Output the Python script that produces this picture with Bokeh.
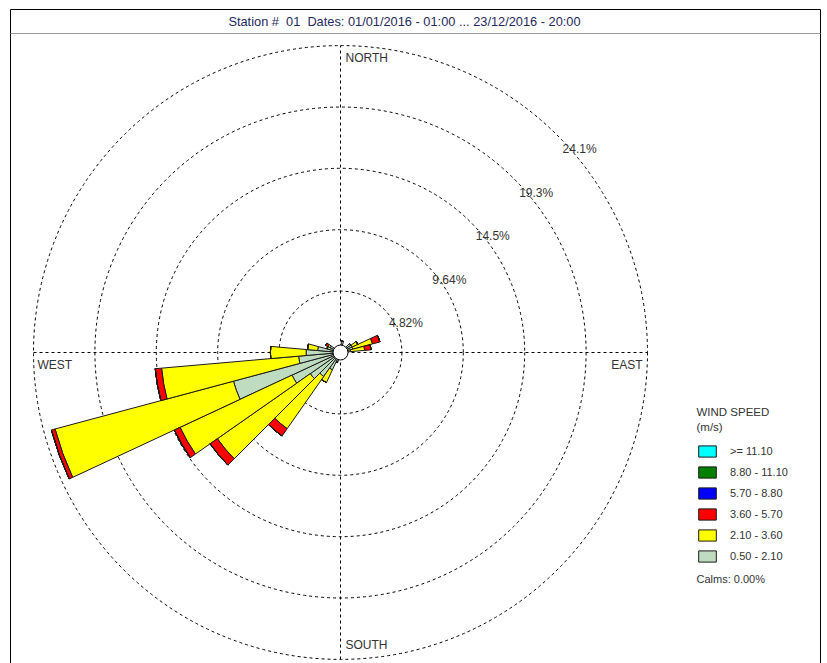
import math

from bokeh.core.properties import value
from bokeh.embed import file_html
from bokeh.models import ColumnDataSource, Label, Legend, LegendItem, Range1d
from bokeh.plotting import figure
from bokeh.resources import INLINE

# ---- data -----------------------------------------------------------------
# wind direction of each 10-degree sector (degrees clockwise from north)
directions = [10, 50, 60, 70, 80, 200, 210, 220, 230, 240, 250, 260, 270, 280, 290, 300]

# frequency (%) of each speed class per sector
freq_050_210 = [0.9, 1.0, 1.0, 1.0, 0.8, 0.8, 1.5, 2.3, 2.9, 4.2, 8.7, 3.3, 2.7, 1.8, 1.1, 0.9]
freq_210_360 = [0.0, 0.0, 0.5, 1.6, 1.1, 0.0, 1.1, 5.0, 8.9, 9.7, 14.5, 10.8, 2.8, 0.8, 0.0, 0.2]
freq_360_570 = [0.0, 0.0, 0.0, 0.6, 0.5, 0.0, 0.0, 0.7, 0.7, 0.5, 0.3, 0.5, 0.0, 0.0, 0.0, 0.2]
freq_570_880 = [0.0, 0.0, 0.0, 0.0, 0.0, 0.0, 0.0, 0.0, 0.0, 0.0, 0.0, 0.0, 0.0, 0.0, 0.0, 0.0]
freq_880_1110 = [0.0, 0.0, 0.0, 0.0, 0.0, 0.0, 0.0, 0.0, 0.0, 0.0, 0.0, 0.0, 0.0, 0.0, 0.0, 0.0]
freq_1110_up = [0.0, 0.0, 0.0, 0.0, 0.0, 0.0, 0.0, 0.0, 0.0, 0.0, 0.0, 0.0, 0.0, 0.0, 0.0, 0.0]

# speed classes, slowest first (stacking order from the centre outwards)
speed_labels = ["0.50 - 2.10", "2.10 - 3.60", "3.60 - 5.70", "5.70 - 8.80", "8.80 - 11.10", ">= 11.10"]
speed_colors = ["#c0dcc0", "#ffff00", "#ff0000", "#0000ff", "#007f00", "#00ffff"]
speed_freqs = [freq_050_210, freq_210_360, freq_360_570, freq_570_880, freq_880_1110, freq_1110_up]

ring_values = [4.82, 9.64, 14.46, 19.28, 24.1]
ring_labels = ["4.82%", "9.64%", "14.5%", "19.3%", "24.1%"]
title_text = "Station #\u00a0\u00a001\u00a0\u00a0Dates: 01/01/2016 - 01:00 ... 23/12/2016 - 20:00"
legend_title = ["WIND SPEED", "(m/s)"]
calms_text = "Calms: 0.00%"
sector_width = 10.0

# ---- page geometry ----------------------------------------------------------
W, H = 827, 663
CX, CY = 340, 352                    # rose centre in page pixels
SCALE = 307.0 / ring_values[-1]      # pixels per percent


def px_x(px):
    return (px - CX) / SCALE


def px_y(py):
    return (CY - py) / SCALE


FONT_NAME = "Liberation Sans"
FONT = value(FONT_NAME)

p = figure(
    width=W, height=H,
    x_range=Range1d(px_x(0), px_x(W)),
    y_range=Range1d(px_y(H), px_y(0)),
    x_axis_type=None, y_axis_type=None,
    toolbar_location=None, output_backend="svg",
    min_border=0, outline_line_color=None,
    background_fill_color="white", border_fill_color="white",
)
p.grid.visible = False

# ---- frame and title bar ----------------------------------------------------
p.segment(x0=[px_x(10), px_x(10), px_x(820)], y0=[px_y(9), px_y(9), px_y(9)],
          x1=[px_x(820), px_x(10), px_x(820)], y1=[px_y(9), px_y(H + 5), px_y(H + 5)],
          line_color="#000000", line_width=1)
p.segment(x0=[px_x(10)], y0=[px_y(33)], x1=[px_x(820)], y1=[px_y(33)],
          line_color="#9a9a9a", line_width=1)
p.add_layout(Label(x=404, y=H - 21, x_units="screen", y_units="screen", text=title_text,
                   text_align="center", text_baseline="middle", text_font=FONT_NAME,
                   text_font_size="12.8px", text_color="#1f2a5c"))

# ---- grid: dashed rings and compass cross -----------------------------------
R = ring_values[-1]
p.circle(x=[0] * len(ring_values), y=[0] * len(ring_values), radius=ring_values,
         fill_color=None, line_color="#000000", line_dash="3 3", line_width=1)
p.segment(x0=[-R, 0], y0=[0, -R], x1=[R, 0], y1=[0, R],
          line_color="#000000", line_dash="3 3", line_width=1)

# ---- petals: one stacked annular wedge per sector and speed class ----------
cum = [0.0] * len(directions)
renderers = []
for label, color, freqs in zip(speed_labels, speed_colors, speed_freqs):
    inner = list(cum)
    outer = [c + f for c, f in zip(cum, freqs)]
    cum = outer
    src = ColumnDataSource(dict(
        inner=inner,
        outer=outer,
        start=[math.radians(90 - d - sector_width / 2) for d in directions],
        end=[math.radians(90 - d + sector_width / 2) for d in directions],
    ))
    r = p.annular_wedge(x=0, y=0, inner_radius="inner", outer_radius="outer",
                        start_angle="start", end_angle="end", source=src,
                        fill_color=color, line_color="#1a1a1a", line_width=1)
    renderers.append((label, r))

# calm circle in the middle
p.circle(x=[0], y=[0], radius=[7.5 / SCALE], fill_color="white",
         line_color="#000000", line_width=1)

# ---- ring labels (placed along the north-east diagonal) ---------------------
diag = math.cos(math.radians(45))
p.text(x=[v * diag for v in ring_values], y=[v * diag for v in ring_values], text=ring_labels,
       text_align="left", text_baseline="top", x_offset=5, y_offset=7,
       text_font=FONT, text_font_size="12px", text_color="#333333")

# ---- compass labels ---------------------------------------------------------
cstyle = dict(text_font=FONT, text_font_size="12px", text_color="#333333")
p.text(x=[0], y=[R], text=["NORTH"], text_align="left", text_baseline="top",
       x_offset=5, y_offset=5, **cstyle)
p.text(x=[R], y=[0], text=["EAST"], text_align="right", text_baseline="top",
       x_offset=-5, y_offset=5, **cstyle)
p.text(x=[-R], y=[0], text=["WEST"], text_align="left", text_baseline="top",
       x_offset=4, y_offset=5, **cstyle)
p.text(x=[0], y=[-R], text=["SOUTH"], text_align="left", text_baseline="bottom",
       x_offset=5, y_offset=-8, **cstyle)

# ---- legend -----------------------------------------------------------------
items = [LegendItem(label=lab, renderers=[r]) for lab, r in reversed(renderers)]
legend = Legend(items=items, location=(696, 100), orientation="vertical",
                glyph_width=22, glyph_height=14, spacing=7, padding=0, margin=0,
                label_standoff=12, label_text_font=FONT_NAME, label_text_font_size="11px",
                label_text_color="#333333", border_line_color=None,
                background_fill_alpha=0, label_height=14)
p.add_layout(legend)

for j, t in enumerate(legend_title):
    p.add_layout(Label(x=696, y=H - 405 - 15 * j, x_units="screen", y_units="screen", text=t,
                       text_align="left", text_baseline="top", text_font=FONT_NAME,
                       text_font_size="11.5px", text_color="#333333"))
p.add_layout(Label(x=696, y=H - 572, x_units="screen", y_units="screen", text=calms_text,
                   text_align="left", text_baseline="top", text_font=FONT_NAME,
                   text_font_size="11px", text_color="#333333"))

open("out.html", "w").write(file_html(p, INLINE))
